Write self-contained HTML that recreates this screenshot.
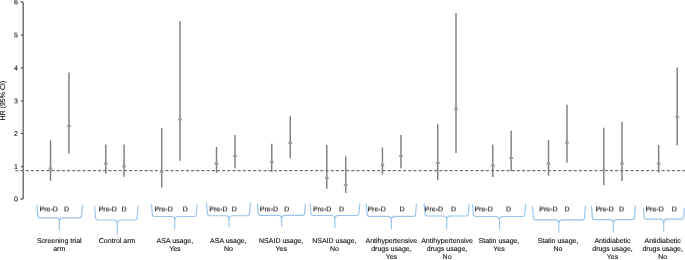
<!DOCTYPE html>
<html lang="en"><head><meta charset="utf-8"><title>HR (95% CI) forest plot</title>
<style>html,body{margin:0;padding:0;background:#fff}body{width:685px;height:260px;overflow:hidden}svg{display:block}text{font-family:"Liberation Sans",Arial,Helvetica,sans-serif;font-size:7.0px;fill:#111;stroke:#111;stroke-width:.12px;text-rendering:geometricPrecision}.ci{stroke:#7e7e7e;stroke-width:1.45;fill:none}.mk{fill:#9a9a9a}.br{stroke:#9ac4ec;stroke-width:1.15;fill:none;stroke-linecap:round;stroke-linejoin:round}.ax{stroke:#5c5c5c;stroke-width:1.3;fill:none}.ref{stroke:#727272;stroke-width:1.3;stroke-dasharray:3.1 2.07;fill:none}</style></head><body>
<svg width="685" height="260" viewBox="0 0 685 260">
<defs><filter id="hp" x="0" y="0" width="685" height="260" filterUnits="userSpaceOnUse"><feConvolveMatrix order="1 2" kernelMatrix="0.6 0.4" targetY="1" edgeMode="none"/></filter></defs>
<rect width="685" height="260" fill="#fff"/>
<path class="ax" d="M20.5 1.9 H22.2 Q23.2 1.9 23.2 2.9 V198 Q23.2 199 22.2 199 H20.5"/>
<text x="17.9" y="4" text-anchor="end" filter="url(#hp)">6</text>
<path class="ax" d="M20.7 35.1 H23.2"/>
<text x="17.9" y="37" text-anchor="end" filter="url(#hp)">5</text>
<path class="ax" d="M20.7 68 H23.2"/>
<text x="17.9" y="70" text-anchor="end" filter="url(#hp)">4</text>
<path class="ax" d="M20.7 101 H23.2"/>
<text x="17.9" y="103" text-anchor="end" filter="url(#hp)">3</text>
<path class="ax" d="M20.7 133.5 H23.2"/>
<text x="17.9" y="136" text-anchor="end">2</text>
<path class="ax" d="M20.7 166.7 H23.2"/>
<text x="17.9" y="169" text-anchor="end">1</text>
<text x="17.9" y="201" text-anchor="end" filter="url(#hp)">0</text>
<text transform="translate(4.9 100.6) rotate(-90)" text-anchor="middle">HR (95% CI)</text>
<path class="ref" d="M15.3 170.55 H685"/>
<path class="ci" d="M50.5 140.3 V180.75"/>
<path class="mk" d="M50.5 165.2 l2.35 4.2 h-4.7 z"/>
<path class="ci" d="M68.95 72.5 V153.6"/>
<path class="mk" d="M68.95 122.8 l2.35 4.2 h-4.7 z"/>
<path class="ci" d="M105.75 144.5 V173.75"/>
<path class="mk" d="M105.75 160.3 l2.35 4.2 h-4.7 z"/>
<path class="ci" d="M124.1 144.5 V176.75"/>
<path class="mk" d="M124.1 163.05 l2.35 4.2 h-4.7 z"/>
<path class="ci" d="M161.7 128 V187.5"/>
<path class="mk" d="M161.7 168.55 l2.35 4.2 h-4.7 z"/>
<path class="ci" d="M180.0 21.25 V160.75"/>
<path class="mk" d="M180.0 116.05 l2.35 4.2 h-4.7 z"/>
<path class="ci" d="M216.5 147 V173"/>
<path class="mk" d="M216.5 160.3 l2.35 4.2 h-4.7 z"/>
<path class="ci" d="M235 135 V168.25"/>
<path class="mk" d="M235 152.8 l2.35 4.2 h-4.7 z"/>
<path class="ci" d="M271.75 143.75 V172"/>
<path class="mk" d="M271.75 158.8 l2.35 4.2 h-4.7 z"/>
<path class="ci" d="M290.25 116.25 V158.25"/>
<path class="mk" d="M290.25 139.55 l2.35 4.2 h-4.7 z"/>
<path class="ci" d="M326.8 145 V188.75"/>
<path class="mk" d="M326.8 174.55 l2.35 4.2 h-4.7 z"/>
<path class="ci" d="M345.7 156.25 V193"/>
<path class="mk" d="M345.7 181.8 l2.35 4.2 h-4.7 z"/>
<path class="ci" d="M382.45 147.5 V174.5"/>
<path class="mk" d="M382.45 162.05 l2.35 4.2 h-4.7 z"/>
<path class="ci" d="M400.95 135 V168.25"/>
<path class="mk" d="M400.95 152.8 l2.35 4.2 h-4.7 z"/>
<path class="ci" d="M437.75 124.25 V180"/>
<path class="mk" d="M437.75 159.8 l2.35 4.2 h-4.7 z"/>
<path class="ci" d="M456 13 V153"/>
<path class="mk" d="M456 105.8 l2.35 4.2 h-4.7 z"/>
<path class="ci" d="M492.8 144.6 V177"/>
<path class="mk" d="M492.8 162.3 l2.35 4.2 h-4.7 z"/>
<path class="ci" d="M511.15 130.75 V171.25"/>
<path class="mk" d="M511.15 154.8 l2.35 4.2 h-4.7 z"/>
<path class="ci" d="M548.5 140 V175.7"/>
<path class="mk" d="M548.5 160.4 l2.35 4.2 h-4.7 z"/>
<path class="ci" d="M567 104.7 V162.6"/>
<path class="mk" d="M567 139.3 l2.35 4.2 h-4.7 z"/>
<path class="ci" d="M603.8 127.7 V185.2"/>
<path class="mk" d="M603.8 166.7 l2.35 4.2 h-4.7 z"/>
<path class="ci" d="M622 122 V181"/>
<path class="mk" d="M622 160.4 l2.35 4.2 h-4.7 z"/>
<path class="ci" d="M658.65 145 V172.7"/>
<path class="mk" d="M658.65 160.4 l2.35 4.2 h-4.7 z"/>
<path class="ci" d="M677.2 67.5 V145.5"/>
<path class="mk" d="M677.2 113.8 l2.35 4.2 h-4.7 z"/>
<path class="br" d="M36.9 205.2 L37.75 215.60000000000002 Q37.9 217.8 40.1 217.8 H56.1 Q59.4 217.8 59.4 222.10000000000002 V229.8 M82.4 205.2 L81.55 215.60000000000002 Q81.4 217.8 79.2 217.8 H62.7 Q59.4 217.8 59.4 222.10000000000002"/>
<path class="br" d="M94.7 206.3 L95.55 217.8 Q95.7 220 97.9 220 H114.0 Q117.3 220 117.3 224.3 V234.2 M138 206.3 L137.15 217.8 Q137.0 220 134.8 220 H120.6 Q117.3 220 117.3 224.3"/>
<path class="br" d="M151.5 204.7 L152.35 214.3 Q152.5 216.5 154.7 216.5 H171.5 Q174.8 216.5 174.8 220.8 V228.6 M197.1 204.7 L196.25 214.3 Q196.1 216.5 193.9 216.5 H178.1 Q174.8 216.5 174.8 220.8"/>
<path class="br" d="M206.5 203 L207.35 213.5 Q207.5 215.7 209.7 215.7 H225.7 Q229 215.7 229 220.0 V226.8 M250.4 203 L249.55 213.5 Q249.4 215.7 247.2 215.7 H232.3 Q229 215.7 229 220.0"/>
<path class="br" d="M257.4 204 L258.25 213.10000000000002 Q258.4 215.3 260.6 215.3 H278.3 Q281.6 215.3 281.6 219.60000000000002 V226 M305.4 204 L304.55 213.10000000000002 Q304.4 215.3 302.2 215.3 H284.9 Q281.6 215.3 281.6 219.60000000000002"/>
<path class="br" d="M310.1 203.8 L310.95 213.3 Q311.1 215.5 313.3 215.5 H331.6 Q334.9 215.5 334.9 219.8 V227.3 M359.8 203.8 L358.95 213.3 Q358.8 215.5 356.6 215.5 H338.2 Q334.9 215.5 334.9 219.8"/>
<path class="br" d="M366.3 204 L367.15 214.10000000000002 Q367.3 216.3 369.5 216.3 H388.1 Q391.4 216.3 391.4 220.60000000000002 V228.8 M416.4 204 L415.55 214.10000000000002 Q415.4 216.3 413.2 216.3 H394.7 Q391.4 216.3 391.4 220.60000000000002"/>
<path class="br" d="M424.1 204.3 L424.95 213.8 Q425.1 216 427.3 216 H443.4 Q446.7 216 446.7 220.3 V228.6 M469.1 204.3 L468.25 213.8 Q468.1 216 465.9 216 H450.0 Q446.7 216 446.7 220.3"/>
<path class="br" d="M472.6 204.3 L473.45 214.3 Q473.6 216.5 475.8 216.5 H496.2 Q499.5 216.5 499.5 220.8 V229 M525.7 204.3 L524.85 214.3 Q524.7 216.5 522.5 216.5 H502.8 Q499.5 216.5 499.5 220.8"/>
<path class="br" d="M532.5 206.6 L533.35 217.60000000000002 Q533.5 219.8 535.7 219.8 H555.5 Q558.8 219.8 558.8 224.10000000000002 V232.1 M585.4 206.6 L584.55 217.60000000000002 Q584.4 219.8 582.2 219.8 H562.1 Q558.8 219.8 558.8 224.10000000000002"/>
<path class="br" d="M591.5 206.2 L592.35 217.4 Q592.5 219.6 594.7 219.6 H610.0 Q613.3 219.6 613.3 223.9 V232.2 M635.4 206.2 L634.55 217.4 Q634.4 219.6 632.2 219.6 H616.6 Q613.3 219.6 613.3 223.9"/>
<path class="br" d="M643.4 208.4 L644.25 216.9 Q644.4 219.1 646.6 219.1 H660.4 Q663.7 219.1 663.7 223.4 V231.2 M684.4 208.4 L683.55 216.9 Q683.4 219.1 681.2 219.1 H667.0 Q663.7 219.1 663.7 223.4"/>
<g filter="url(#hp)">
<text x="39.55" y="211">Pre-D</text>
<text x="64.0" y="211">D</text>
<text x="98.65" y="211">Pre-D</text>
<text x="121.4" y="211">D</text>
<text x="154.45" y="211">Pre-D</text>
<text x="182.8" y="211">D</text>
<text x="209.25" y="211">Pre-D</text>
<text x="231.8" y="211">D</text>
<text x="259.75" y="211">Pre-D</text>
<text x="284.3" y="211">D</text>
<text x="313.05" y="211">Pre-D</text>
<text x="338.9" y="211">D</text>
<text x="367.45" y="211">Pre-D</text>
<text x="399.4" y="211">D</text>
<text x="424.75" y="211">Pre-D</text>
<text x="451.0" y="211">D</text>
<text x="474.45" y="211">Pre-D</text>
<text x="506.0" y="211">D</text>
<text x="539.25" y="211">Pre-D</text>
<text x="564.4" y="211">D</text>
<text x="595.45" y="211">Pre-D</text>
<text x="619.1" y="211">D</text>
<text x="645.45" y="211">Pre-D</text>
<text x="671.7" y="211">D</text>
</g>
<text x="59.25" y="243" text-anchor="middle">Screening trial</text>
<text x="59.25" y="251" text-anchor="middle">arm</text>
<text x="117.1" y="243" text-anchor="middle">Control arm</text>
<text x="174.9" y="243" text-anchor="middle">ASA usage,</text>
<text x="174.9" y="251" text-anchor="middle">Yes</text>
<text x="228.4" y="243" text-anchor="middle">ASA usage,</text>
<text x="228.4" y="251" text-anchor="middle">No</text>
<text x="281.25" y="243" text-anchor="middle">NSAID usage,</text>
<text x="281.25" y="251" text-anchor="middle">Yes</text>
<text x="334.4" y="243" text-anchor="middle">NSAID usage,</text>
<text x="334.4" y="251" text-anchor="middle">No</text>
<text x="391.4" y="243" text-anchor="middle">Antihypertensive</text>
<text x="391.4" y="251" text-anchor="middle">drugs usage,</text>
<text x="391.4" y="259" text-anchor="middle">Yes</text>
<text x="447.1" y="243" text-anchor="middle">Antihypertensive</text>
<text x="447.1" y="251" text-anchor="middle">drugs usage,</text>
<text x="447.1" y="259" text-anchor="middle">No</text>
<text x="499.0" y="243" text-anchor="middle">Statin usage,</text>
<text x="499.0" y="251" text-anchor="middle">Yes</text>
<text x="558.0" y="243" text-anchor="middle">Statin usage,</text>
<text x="558.0" y="251" text-anchor="middle">No</text>
<text x="612.5" y="243" text-anchor="middle">Antidiabetic</text>
<text x="612.5" y="251" text-anchor="middle">drugs usage,</text>
<text x="612.5" y="259" text-anchor="middle">Yes</text>
<text x="662.7" y="243" text-anchor="middle">Antidiabetic</text>
<text x="662.7" y="251" text-anchor="middle">drugs usage,</text>
<text x="662.7" y="259" text-anchor="middle">No</text>
</svg></body></html>
